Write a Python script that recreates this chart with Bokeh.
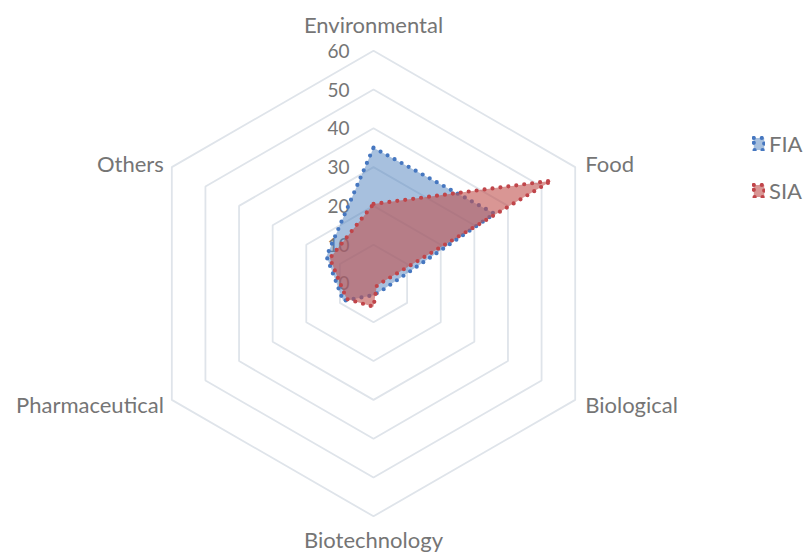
import numpy as np
from bokeh.plotting import figure
from bokeh.models import Legend, LegendItem, Range1d
from bokeh.core.properties import value
from bokeh.embed import file_html
from bokeh.resources import INLINE

# Application areas (spokes, clockwise from the top)
categories = ["Environmental", "Food", "Biological", "Biotechnology", "Pharmaceutical", "Others"]
# Number of works per area for each technique
fia = [35, 36, 3, 3, 9, 14]
sia = [20.5, 53, 1, 6, 8, 13]
series_names = ["FIA", "SIA"]
# Radial scale
ticks = [0, 10, 20, 30, 40, 50, 60]

FONT = value("Lato")
TEXT_COLOR = "#757575"
GRID_COLOR = "#dfe4ea"

n = len(categories)
angles = np.pi / 2 - np.arange(n) * 2 * np.pi / n


def polar(r):
    r = np.asarray(r, dtype=float)
    return r * np.cos(angles), r * np.sin(angles)


p = figure(width=812, height=554, output_backend="svg", toolbar_location=None,
           x_range=Range1d(-96.1, 113.1), y_range=Range1d(-69.85, 72.94),
           x_axis_type=None, y_axis_type=None, min_border=0,
           background_fill_color="white", border_fill_color="white")
p.outline_line_color = None
p.grid.visible = False

# hexagonal grid rings
for lvl in ticks[1:]:
    gx, gy = polar([lvl] * n)
    p.patch(x=list(gx), y=list(gy), fill_alpha=0, line_color=GRID_COLOR, line_width=1.8)

# radial tick labels along the top spoke
p.text(x=[0] * len(ticks), y=ticks, text=[str(t) for t in ticks],
       x_offset=-24, text_align="right", text_baseline="middle",
       text_font=FONT, text_font_size="19px", text_color=TEXT_COLOR)

# category labels just outside the outer ring
ox, oy = polar([ticks[-1]] * n)
label_style = [("center", 0, -26), ("left", 10, -4), ("left", 10, 5),
               ("center", 0, 23), ("right", -8, 5), ("right", -8, -4)]
for name, cx, cy, (align, dx, dy) in zip(categories, ox, oy, label_style):
    p.text(x=[cx], y=[cy], text=[name], x_offset=dx, y_offset=dy,
           text_align=align, text_baseline="middle",
           text_font=FONT, text_font_size="22px", text_color=TEXT_COLOR)

# filled series with round-dot outlines
fx, fy = polar(fia)
r_fia = p.patch(x=list(fx), y=list(fy), fill_color="#4F81BD", fill_alpha=0.5,
                line_color="#4677C0", line_width=4.2, line_dash="0 8",
                line_cap="round", line_join="round")
sx, sy = polar(sia)
r_sia = p.patch(x=list(sx), y=list(sy), fill_color="#C0504D", fill_alpha=0.6,
                line_color="#C0454A", line_width=4.2, line_dash="0 8",
                line_cap="round", line_join="round")

legend = Legend(items=[LegendItem(label=series_names[0], renderers=[r_fia]),
                       LegendItem(label=series_names[1], renderers=[r_sia])],
                location=(752, 350), orientation="vertical",
                border_line_color=None, background_fill_alpha=0,
                label_text_font="Lato", label_text_font_size="22px",
                label_text_color=TEXT_COLOR, glyph_width=13, glyph_height=15,
                spacing=20, padding=0, margin=0, label_standoff=4)
p.add_layout(legend)

open("out.html", "w").write(file_html(p, INLINE))
